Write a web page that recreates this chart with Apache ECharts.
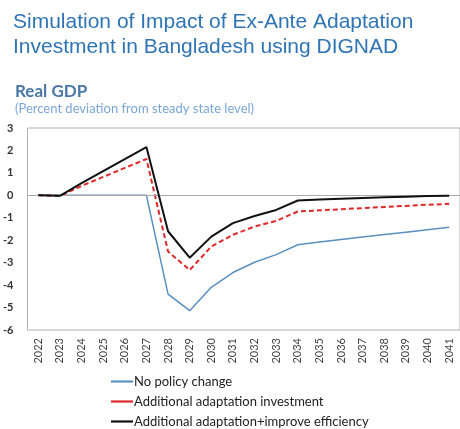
<!DOCTYPE html>
<html>
<head>
<meta charset="utf-8">
<script src="https://cdn.jsdelivr.net/npm/echarts@6/dist/echarts.min.js"></script>
<style>
  html, body { margin: 0; padding: 0; background: #fff; }
  #chart { width: 460px; height: 429px; }
</style>
</head>
<body>
<div id="chart"></div>
<script>
var years = ['2022','2023','2024','2025','2026','2027','2028','2029','2030','2031',
  '2032','2033','2034','2035','2036','2037','2038','2039','2040','2041'];
var seriesNames = ['No policy change', 'Additional adaptation investment', 'Additional adaptation+improve efficiency'];
var noPolicy = [0, 0, 0, 0, 0, 0, -4.4, -5.14, -4.1, -3.44,
  -2.98, -2.64, -2.2, -2.08, -1.97, -1.86, -1.75, -1.64, -1.53, -1.42];
var addInvest = [0, -0.03, 0.42, 0.82, 1.22, 1.62, -2.5, -3.33, -2.28, -1.76,
  -1.39, -1.14, -0.72, -0.67, -0.62, -0.57, -0.52, -0.47, -0.42, -0.38];
var addEfficiency = [0, -0.02, 0.54, 1.08, 1.61, 2.15, -1.6, -2.78, -1.84, -1.24,
  -0.92, -0.65, -0.23, -0.19, -0.15, -0.12, -0.09, -0.06, -0.03, -0.02];

function legendAt(name, top) {
  return {
    left: 106, top: top,
    itemWidth: 22, itemHeight: 10,
    icon: 'path://M0,0 L1,0 L1,0.1 L0,0.1 Z',
    textStyle: { fontFamily: 'Lato', fontSize: 13, color: '#222', padding: [0, 0, 0, -4] },
    data: [name]
  };
}

var chart = echarts.init(document.getElementById('chart'));
chart.setOption({
  animation: false,
  title: [
    {
      text: 'Simulation of Impact of Ex-Ante Adaptation\nInvestment in Bangladesh using DIGNAD',
      left: 8, top: 5,
      textStyle: { fontFamily: 'Liberation Sans', fontSize: 21, fontWeight: 'normal', color: '#2f74b5', lineHeight: 25 }
    },
    {
      text: 'Real GDP',
      left: 10, top: 78,
      textStyle: { fontFamily: 'Lato', fontSize: 17, fontWeight: 'bold', color: '#4a77a8' }
    },
    {
      text: '(Percent deviation from steady state level)',
      left: 10, top: 97,
      textStyle: { fontFamily: 'Lato', fontSize: 13, fontWeight: 'normal', color: '#7aa6d6' }
    }
  ],
  grid: {
    left: 27, right: -2, top: 128, bottom: 99,
    show: true, borderColor: '#b0b0b0', borderWidth: 1
  },
  legend: [
    legendAt(seriesNames[0], 370),
    legendAt(seriesNames[1], 390),
    legendAt(seriesNames[2], 410)
  ],
  xAxis: {
    type: 'category',
    data: years,
    boundaryGap: true,
    axisLine: { show: false },
    axisTick: { show: false },
    axisLabel: { rotate: 90, fontFamily: 'Lato', fontSize: 11, color: '#444', margin: 8 }
  },
  yAxis: {
    type: 'value',
    min: -6, max: 3, interval: 1,
    axisLine: { show: false },
    axisTick: { show: false },
    splitLine: { show: false },
    axisLabel: { fontFamily: 'Lato', fontSize: 11, fontWeight: 'bold', color: '#333', margin: 14 }
  },
  series: [
    {
      name: seriesNames[0],
      type: 'line',
      data: noPolicy,
      symbol: 'none',
      lineStyle: { color: '#5b8fc0', width: 1.5 },
      itemStyle: { color: '#5b8fc0' },
      markLine: {
        silent: true, symbol: 'none', label: { show: false },
        lineStyle: { color: '#aaa', width: 1.2, type: 'solid' },
        data: [{ yAxis: 0 }]
      },
      z: 3
    },
    {
      name: seriesNames[1],
      type: 'line',
      data: addInvest,
      symbol: 'none',
      lineStyle: { color: '#e0292b', width: 2, type: [5, 3] },
      itemStyle: { color: '#e0292b' },
      z: 4
    },
    {
      name: seriesNames[2],
      type: 'line',
      data: addEfficiency,
      symbol: 'none',
      lineStyle: { color: '#111', width: 2 },
      itemStyle: { color: '#111' },
      z: 5
    }
  ]
});
</script>
</body>
</html>
